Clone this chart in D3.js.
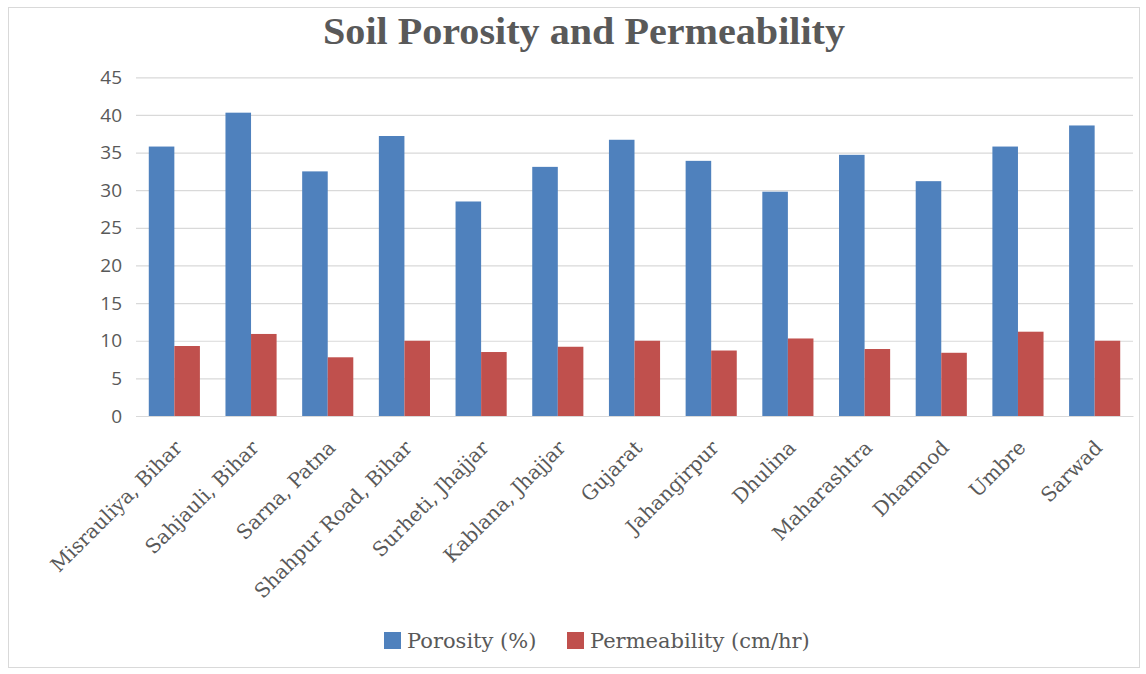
<!DOCTYPE html>
<html><head><meta charset="utf-8">
<script src="https://cdn.jsdelivr.net/npm/d3@7"></script>
<style>body{margin:0;background:#fff}svg{display:block}</style>
</head><body>
<script>
const categories = ["Misrauliya, Bihar","Sahjauli, Bihar","Sarna, Patna","Shahpur Road, Bihar","Surheti, Jhajjar","Kablana, Jhajjar","Gujarat","Jahangirpur","Dhulina","Maharashtra","Dhamnod","Umbre","Sarwad"];
const porosity = [35.8,40.3,32.5,37.2,28.5,33.1,36.7,33.9,29.8,34.7,31.2,35.8,38.6];
const permeability = [9.3,10.9,7.8,10.0,8.5,9.2,10.0,8.7,10.3,8.9,8.4,11.2,10.0];
const seriesNames = ["Porosity (%)","Permeability (cm/hr)"];
const colors = ["#4F81BD","#C0504D"];
const yTicks = [0,5,10,15,20,25,30,35,40,45];

const W=1146,H=674;
const svg=d3.select("body").append("svg").attr("width",W).attr("height",H);
svg.append("rect").attr("x",8.5).attr("y",7.5).attr("width",1131).attr("height",660)
  .attr("fill","#fff").attr("stroke","#d9d9d9");

const pL=136,pR=1133,pT=77.3,pB=416;
const x=d3.scaleBand().domain(categories).range([pL,pR]).paddingInner(1/3).paddingOuter(1/6);
const xs=d3.scaleBand().domain([0,1]).range([0,x.bandwidth()]);
const y=d3.scaleLinear().domain([0,45]).range([pB,pT]);

svg.append("text").attr("x",584).attr("y",44).attr("text-anchor","middle")
  .attr("font-family","Liberation Serif").attr("font-weight","bold").attr("font-size",37)
  .attr("fill","#595959").attr("textLength",522).attr("lengthAdjust","spacingAndGlyphs")
  .text("Soil Porosity and Permeability");

const yAxis=svg.append("g").attr("transform",`translate(${pL},0)`)
  .call(d3.axisLeft(y).tickValues(yTicks).tickSize(-(pR-pL)).tickPadding(14));
yAxis.select(".domain").remove();
yAxis.selectAll(".tick line").attr("stroke","#d9d9d9").attr("stroke-width",1.2);
yAxis.selectAll(".tick text").attr("font-family","Open Sans").attr("font-size",19).attr("fill","#595959");

const data=[porosity,permeability];
const g=svg.append("g");
categories.forEach((c,i)=>{
  data.forEach((s,k)=>{
    g.append("rect").attr("x",x(c)+xs(k)).attr("width",xs.bandwidth())
      .attr("y",y(s[i])).attr("height",y(0)-y(s[i])).attr("fill",colors[k]);
  });
});

const xAxis=svg.append("g").attr("transform",`translate(0,${pB})`)
  .call(d3.axisBottom(x).tickSize(0).tickPadding(0));
xAxis.select(".domain").attr("stroke","#d9d9d9");
xAxis.selectAll(".tick text").attr("font-family","DejaVu Serif").attr("font-size",20).attr("fill","#595959")
  .attr("text-anchor","end").attr("dy","0.35em")
  .attr("transform","translate(4,28) rotate(-45)");

const legend=svg.append("g");
const lx=[384,567];
seriesNames.forEach((n,k)=>{
  legend.append("rect").attr("x",lx[k]).attr("y",632).attr("width",17).attr("height",17).attr("fill",colors[k]);
  legend.append("text").attr("x",lx[k]+23).attr("y",648).attr("font-family","DejaVu Serif").attr("font-size",21)
    .attr("fill","#595959").text(n);
});
</script>
</body></html>
